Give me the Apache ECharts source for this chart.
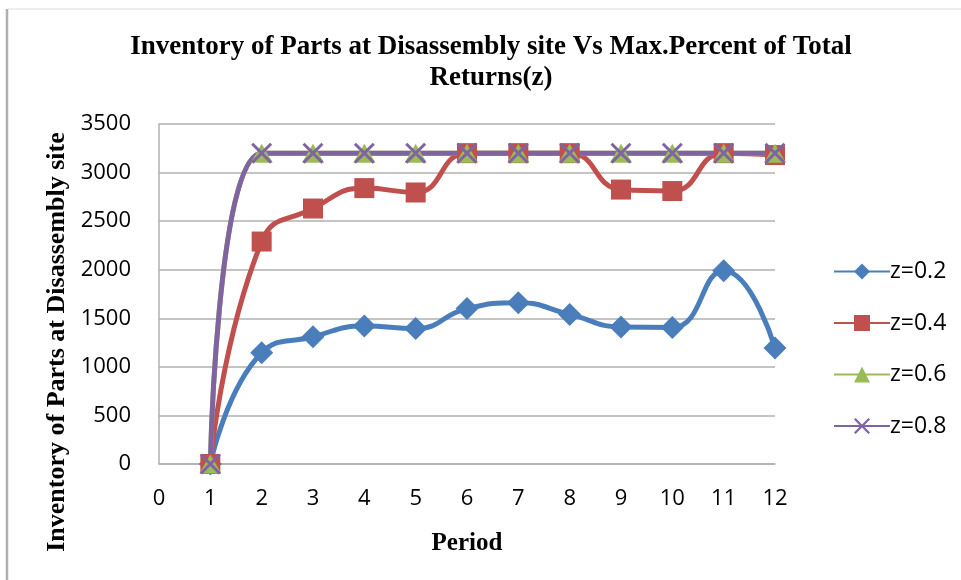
<!DOCTYPE html>
<html>
<head>
<meta charset="utf-8">
<script src="https://cdn.jsdelivr.net/npm/echarts@6/dist/echarts.min.js"></script>
<style>html,body{margin:0;padding:0;background:#fff;}#c{width:961px;height:580px;}</style>
</head>
<body>
<div id="c"></div>
<script>
var periods = [1, 2, 3, 4, 5, 6, 7, 8, 9, 10, 11, 12];
var z02 = [0, 1145, 1310, 1420, 1395, 1600, 1660, 1540, 1410, 1405, 1990, 1195];
var z04 = [0, 2290, 2630, 2840, 2795, 3200, 3200, 3200, 2825, 2810, 3200, 3180];
var z06 = [0, 3200, 3200, 3200, 3200, 3200, 3200, 3200, 3200, 3200, 3200, 3200];
var z08 = [0, 3200, 3200, 3200, 3200, 3200, 3200, 3200, 3200, 3200, 3200, 3200];
var seriesNames = ['z=0.2', 'z=0.4', 'z=0.6', 'z=0.8'];

function pairs(vals) { return periods.map(function (p, i) { return [p, vals[i]]; }); }

var xShape = 'path://M0,1L1,0L5,4L9,0L10,1L6,5L10,9L9,10L5,6L1,10L0,9L4,5Z';
var serifBold = { fontFamily: 'Liberation Serif', fontWeight: 'bold', color: '#000' };
var sans = { fontFamily: 'Open Sans', fontSize: 22, color: '#000' };

var chart = echarts.init(document.getElementById('c'));
chart.setOption({
  animation: false,
  backgroundColor: '#fff',
  title: {
    text: 'Inventory of Parts at Disassembly site Vs Max.Percent of Total\nReturns(z)',
    left: 486, top: 27, textAlign: 'center',
    textStyle: Object.assign({ fontSize: 27, lineHeight: 31 }, serifBold)
  },
  graphic: [
    { type: 'line', shape: { x1: 8, y1: 9, x2: 961, y2: 9 }, style: { stroke: '#dcdcdc', lineWidth: 1 } },
    { type: 'line', shape: { x1: 7, y1: 9, x2: 7, y2: 580 }, style: { stroke: '#b0b0b0', lineWidth: 2.5 } }
  ],
  legend: {
    orient: 'vertical', left: 828, top: 255,
    itemWidth: 56, itemHeight: 20, itemGap: 28.5,
    data: seriesNames,
    textStyle: { fontFamily: 'Open Sans', fontSize: 23, color: '#000', padding: [0, 0, 0, -5] }
  },
  grid: { left: 159, right: 186, top: 124, bottom: 116, containLabel: false },
  xAxis: {
    type: 'value', min: 0, max: 12, interval: 1,
    name: 'Period', nameLocation: 'middle', nameGap: 67,
    nameTextStyle: Object.assign({ fontSize: 25 }, serifBold),
    axisLine: { show: true, lineStyle: { color: '#b0b0b0', width: 1.5 } },
    axisTick: { show: false },
    splitLine: { show: false },
    axisLabel: Object.assign({ margin: 24 }, sans)
  },
  yAxis: {
    type: 'value', min: 0, max: 3500, interval: 500,
    name: 'Inventory of Parts at Disassembly site', nameLocation: 'middle', nameGap: 88,
    nameTextStyle: Object.assign({ fontSize: 26, padding: [0, 96, 0, 0] }, serifBold),
    axisLine: { show: true, lineStyle: { color: '#b0b0b0', width: 1.5 } },
    axisTick: { show: false },
    splitLine: { show: true, lineStyle: { color: '#b0b0b0', width: 1.5 } },
    axisLabel: Object.assign({ margin: 28, formatter: function (v) { return String(v); } }, sans)
  },
  series: [
    { name: seriesNames[0], type: 'line', data: pairs(z02), smooth: 0.5, symbol: 'diamond', symbolSize: 23,
      lineStyle: { color: '#4A7EBB', width: 5 }, itemStyle: { color: '#4A7EBB' } },
    { name: seriesNames[1], type: 'line', data: pairs(z04), smooth: 0.5, symbol: 'rect', symbolSize: 20,
      lineStyle: { color: '#C0504D', width: 5 }, itemStyle: { color: '#C0504D' } },
    { name: seriesNames[2], type: 'line', data: pairs(z06), smooth: 0.5, symbol: 'triangle', symbolSize: [22, 19],
      lineStyle: { color: '#9BBB59', width: 5 }, itemStyle: { color: '#9BBB59' } },
    { name: seriesNames[3], type: 'line', data: pairs(z08), smooth: 0.5, symbol: xShape, symbolSize: 21,
      lineStyle: { color: '#8064A2', width: 5 }, itemStyle: { color: '#8064A2' } }
  ]
});
</script>
</body>
</html>
